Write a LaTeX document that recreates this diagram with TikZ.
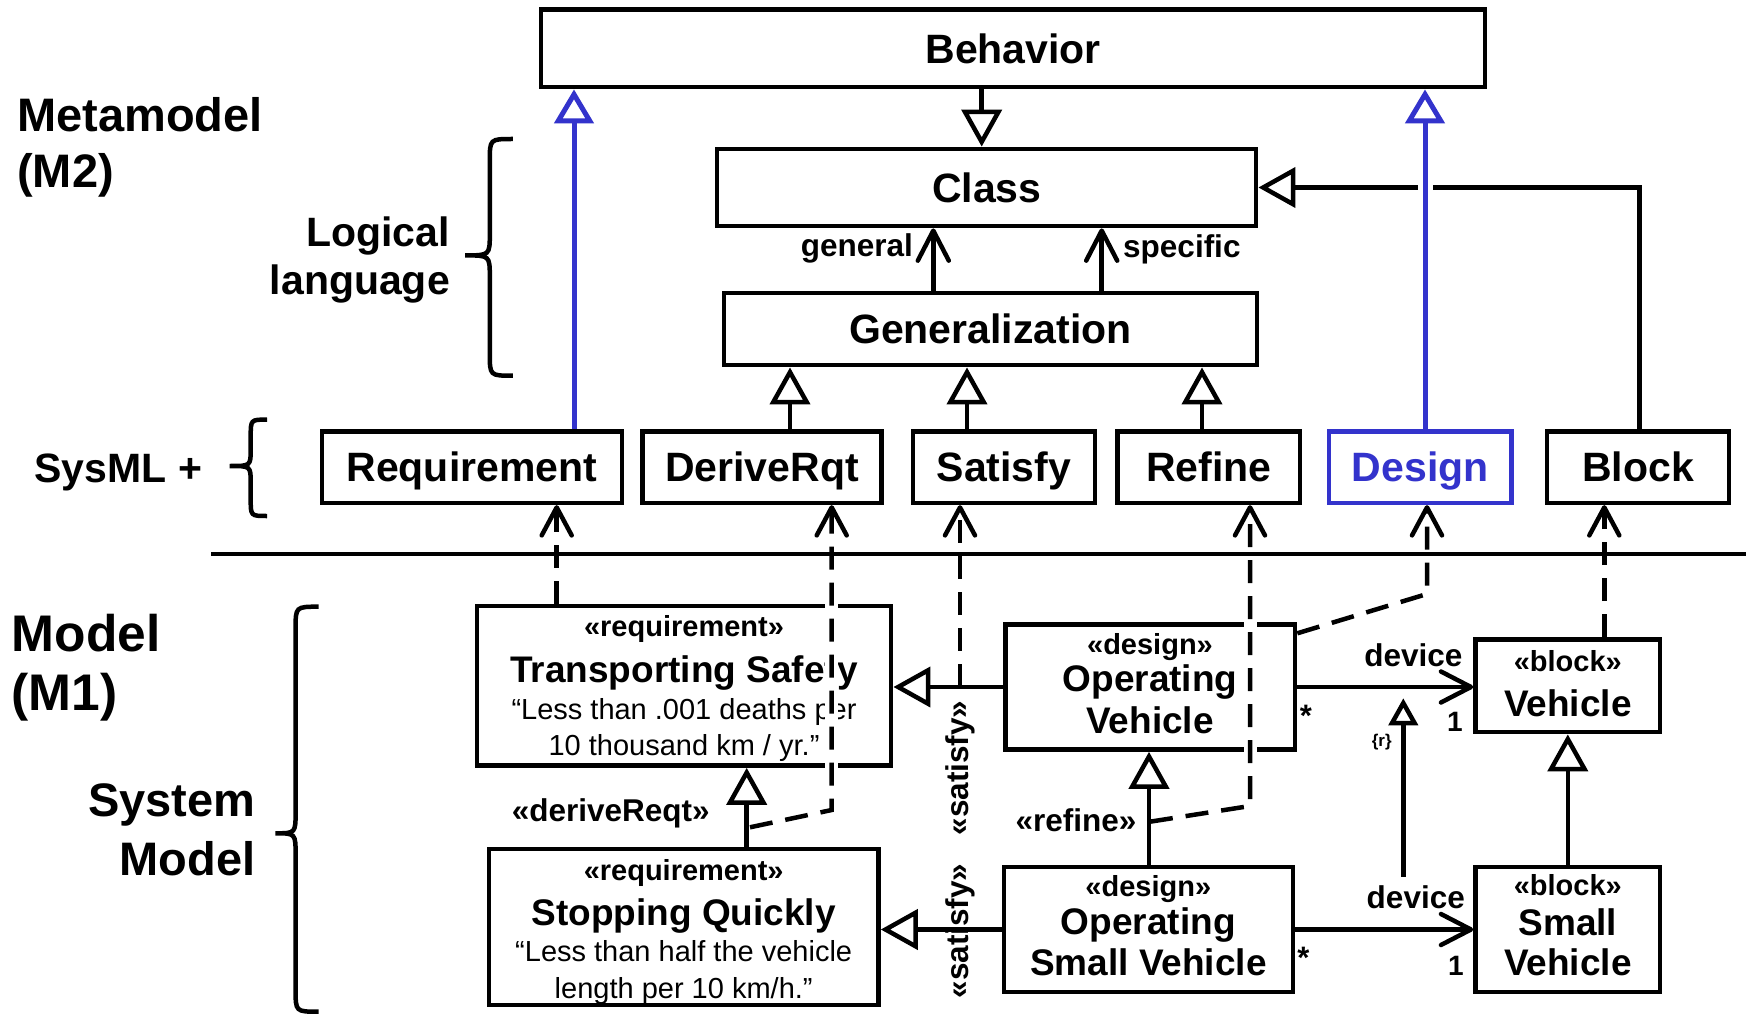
\documentclass[tikz,border=0pt]{standalone}
\usepackage{fontspec}
\setmainfont{Liberation Sans}
\usetikzlibrary{arrows.meta,calc}
\definecolor{umlblue}{RGB}{51,51,204}
\newcommand\fsz[1]{\fontsize{#1pt}{#1pt}\selectfont}
% curly brace: right end x, spine x, tip x, top y, tip y, bottom y, corner size
\newcommand\curlybrace[7]{%
  \draw[bracestroke] (#1,#4) .. controls (#2,#4) .. (#2,#4+#7)
    -- (#2,#5-#7) .. controls (#2,#5) .. (#3,#5)
    .. controls (#2,#5) .. (#2,#5+#7)
    -- (#2,#6-#7) .. controls (#2,#6) .. (#1,#6);}
\begin{document}
\begin{tikzpicture}[x=1pt,y=-1pt,
  boxline/.style={line width=4.5pt},
  box/.style={draw, boxline, inner sep=0pt, font=\fsz{41}\bfseries, text height=29.5pt, text depth=0pt},
  stereotxt/.style={anchor=base, inner sep=0pt, font=\fsz{29}\bfseries},
  nametxt/.style={anchor=base, inner sep=0pt, font=\fsz{37}\bfseries},
  quotetxt/.style={anchor=base, inner sep=0pt, font=\fsz{29}},
  roletxt/.style={inner sep=0pt, font=\fsz{31.5}\bfseries},
  multtxt/.style={inner sep=0pt, anchor=base, font=\fsz{#1}\bfseries},
  sidetxt/.style={inner sep=0pt, font=\fsz{#1}\bfseries},
  gen/.style={boxline, -{Triangle[fill=white, length=37pt, width=40pt]}},
  smallgen/.style={boxline, -{Triangle[fill=white, length=27pt, width=29pt]}},
  bluegen/.style={line width=5pt, draw=umlblue, -{Triangle[fill=white, length=34pt, width=39pt]}},
  nav/.style={boxline, -{Straight Barb[length=30pt, width=31pt, round]}},
  dep/.style={boxline, dash pattern=on 23pt off 13pt, -{Straight Barb[length=28pt, width=30pt, round]}},
  halo/.style={draw=white, line width=13pt},
  bracestroke/.style={line width=4.5pt},
]
\fill[white] (0,0) rectangle (1746,1016);
\useasboundingbox (0,0) rectangle (1746,1016);

% ---------- side labels and braces
\node[sidetxt=47, anchor=base west] (lab-meta) at (17,132) {Metamodel};
\node[sidetxt=47, anchor=base west] (lab-m2) at (17,187.5) {(M2)};
\node[sidetxt=41, anchor=base east] (lab-logical) at (450,246.4) {Logical};
\node[sidetxt=41, anchor=base east] (lab-language) at (450,294.6) {language};
\node[sidetxt=41, anchor=base west] (lab-sysml) at (34.4,482) {SysML +};
\node[sidetxt=51.5, anchor=base west] (lab-model) at (11.5,651.7) {Model};
\node[sidetxt=51.5, anchor=base west] (lab-m1) at (11.5,710) {(M1)};
\node[sidetxt=47, anchor=base east] (lab-system) at (255.5,816.7) {System};
\node[sidetxt=47, anchor=base east] (lab-smodel) at (255.5,875) {Model};

\curlybrace{512.8}{489.8}{465}{139}{255.4}{375.7}{22}
\curlybrace{267}{250.7}{229.6}{419.6}{466}{516}{17}
\curlybrace{318.6}{295.6}{275.5}{606.7}{833.3}{1011.7}{22}

% ---------- metamodel classes
\node[box, minimum width=944pt, minimum height=77.7pt] (behavior) at (1013.2,48.3) {Behavior};
\node[box, minimum width=539pt, minimum height=77.3pt] (class) at (986.7,187.5) {Class};
\node[box, minimum width=533.3pt, minimum height=72pt] (generalization) at (990.5,329.2) {Generalization};

\node[box, minimum width=300pt, minimum height=71.4pt] (requirement) at (471.8,467.2) {Requirement};
\node[box, minimum width=239pt, minimum height=71.4pt] (deriverqt) at (761.9,467.2) {DeriveRqt};
\node[box, minimum width=182.3pt, minimum height=71.4pt] (satisfy) at (1004,467.2) {Satisfy};
\node[box, minimum width=182.6pt, minimum height=71.4pt] (refine) at (1208.8,467.2) {Refine};
\node[box, draw=umlblue, text=umlblue, minimum width=182.2pt, minimum height=71.4pt] (design) at (1420.3,467.2) {Design};
\node[box, minimum width=181.7pt, minimum height=71.4pt] (block) at (1638,467.2) {Block};

% ---------- model elements
\node[box, minimum width=414pt, minimum height=159.4pt] (ts) at (684.2,685.9) {};
\node[stereotxt] (ts-st) at (684,636.7) {«requirement»};
\node[nametxt] (ts-nm) at (684,682.7) {Transporting Safety};
\node[quotetxt] (ts-q1) at (684,719.3) {“Less than .001 deaths per};
\node[quotetxt] (ts-q2) at (684,755) {10 thousand km / yr.”};

\node[box, minimum width=389.7pt, minimum height=156.3pt] (sq) at (683.7,927) {};
\node[stereotxt] (sq-st) at (683.7,880) {«requirement»};
\node[nametxt] (sq-nm) at (683.7,925) {Stopping Quickly};
\node[quotetxt] (sq-q1) at (683.7,961.7) {“Less than half the vehicle};
\node[quotetxt] (sq-q2) at (683.7,998) {length per 10 km/h.”};

\node[box, minimum width=289.7pt, minimum height=125.1pt] (ov) at (1150.3,687) {};
\node[stereotxt] (ov-st) at (1150,654) {«design»};
\node[nametxt] (ov-n1) at (1150,691.7) {Operating};
\node[nametxt] (ov-n2) at (1150,733.3) {Vehicle};

\node[box, minimum width=289pt, minimum height=124.7pt] (osv) at (1148.3,929.5) {};
\node[stereotxt] (osv-st) at (1148.3,896) {«design»};
\node[nametxt] (osv-n1) at (1148.3,934.3) {Operating};
\node[nametxt] (osv-n2) at (1148.3,975) {Small Vehicle};

\node[box, minimum width=184.7pt, minimum height=92.7pt] (veh) at (1567.8,685.8) {};
\node[stereotxt] (veh-st) at (1567.8,671.7) {«block»};
\node[nametxt] (veh-nm) at (1567.8,716.7) {Vehicle};

\node[box, minimum width=184.7pt, minimum height=124.7pt] (sveh) at (1567.8,929.5) {};
\node[stereotxt] (sveh-st) at (1567.8,895) {«block»};
\node[nametxt] (sveh-n1) at (1567.8,935) {Small};
\node[nametxt] (sveh-n2) at (1567.8,975) {Vehicle};

% ---------- attachment abscissae
\coordinate (xbeh) at (981.7,0);
\coordinate (xgen) at (933.3,0);
\coordinate (xspec) at (1101.7,0);
\coordinate (xg1) at (790,0);
\coordinate (xg2) at (967,0);
\coordinate (xg3) at (1202,0);
\coordinate (xreq) at (574,0);
\coordinate (xdes) at (1425,0);
\coordinate (xblk) at (1639.5,0);
\coordinate (xsq) at (746.7,0);
\coordinate (xosv) at (1149,0);

% ---------- metamodel relations
\draw[gen] (behavior.south -| xbeh) -- (class.north -| xbeh);
\draw[nav] (generalization.north -| xgen) -- (class.south -| xgen);
\draw[nav] (generalization.north -| xspec) -- (class.south -| xspec);
\node[roletxt, anchor=base east] (role-general) at (913,256.7) {general};
\node[roletxt, anchor=base west] (role-specific) at (1123,258) {specific};

\draw[gen] (deriverqt.north -| xg1) -- (generalization.south -| xg1);
\draw[gen] (satisfy.north -| xg2) -- (generalization.south -| xg2);
\draw[gen] (refine.north -| xg3) -- (generalization.south -| xg3);

\draw[gen] (block.north -| xblk) |- (class.east);
\draw[halo, line width=15pt] ($(class.east -| xdes)+(0,-11)$) -- ($(class.east -| xdes)+(0,11)$);
\draw[bluegen] (requirement.north -| xreq) -- (behavior.south -| xreq);
\draw[bluegen] (design.north -| xdes) -- (behavior.south -| xdes);

% ---------- level separator
\coordinate (sepL) at (211,554);
\coordinate (sepR) at (1746,554);
\draw[boxline] (sepL) -- (sepR);

% ---------- model relations
\draw[gen] (ov.west) -- (ov.west -| ts.east);
\draw[gen] (osv.west) -- (osv.west -| sq.east);
\draw[gen] (sq.north -| xsq) -- (ts.south -| xsq);
\draw[gen] (osv.north -| xosv) -- (ov.south -| xosv);
\draw[gen] (sveh.north) -- (veh.south);
\draw[nav] (ov.east) -- (ov.east -| veh.west);
\draw[nav] (osv.east) -- (osv.east -| sveh.west);

\coordinate (rbot) at (1403.3,876.7);
\coordinate (rtop) at (1403.3,698.3);
\draw[smallgen] (rbot) -- (rtop);
\node[inner sep=0pt, font=\fsz{17}\bfseries] (redef) at (1381.7,741.7) {\{r\}};

\node[roletxt, anchor=base east] (dev1) at (1462.7,666) {device};
\node[roletxt, anchor=base east] (dev2) at (1465,908.3) {device};
\node[multtxt=31] (m1a) at (1306,726) {*};
\node[multtxt=28] (m1b) at (1455,731.7) {1};
\node[multtxt=31] (m2a) at (1303.3,968) {*};
\node[multtxt=28] (m2b) at (1456,975) {1};

\node[roletxt, anchor=base west] (st-derive) at (511.7,821.7) {«deriveReqt»};
\node[roletxt, anchor=base east] (st-refine) at (1136.7,831.7) {«refine»};
\node[roletxt, rotate=90] (st-sat1) at (960,768) {«satisfy»};
\node[roletxt, rotate=90] (st-sat2) at (960,931) {«satisfy»};

% ---------- instance-of dependencies
\coordinate (d2a) at (750,827.3);
\coordinate (d2b) at (831.7,810);
\coordinate (d3a) at (960,686.7);
\coordinate (d4a) at (1150,821.7);
\coordinate (d4b) at (1250,806);
\coordinate (d5a) at (1297.3,633.3);
\coordinate (d5b) at (1427,594);
\coordinate (xd1) at (556.7,0);
\coordinate (xd6) at (1604.3,0);

\draw[halo] ($(ts.north -| d2b)+(0,-6)$) -- ($(ts.south -| d2b)+(0,6)$);
\draw[halo] ($(ov.north -| d4b)+(0,-6)$) -- ($(ov.south -| d4b)+(0,6)$);

\draw[dep] (ts.north -| xd1) -- (requirement.south -| xd1);
\draw[dep] (d2a) -- (d2b) -- (deriverqt.south -| d2b);
\draw[dep] (d3a) -- (satisfy.south -| d3a);
\draw[dep] (d4a) -- (d4b) -- (refine.south -| d4b);
\draw[dep] (d5a) -- (d5b) -- (design.south -| d5b);
\draw[dep] (veh.north -| xd6) -- (block.south -| xd6);
\end{tikzpicture}
\end{document}
